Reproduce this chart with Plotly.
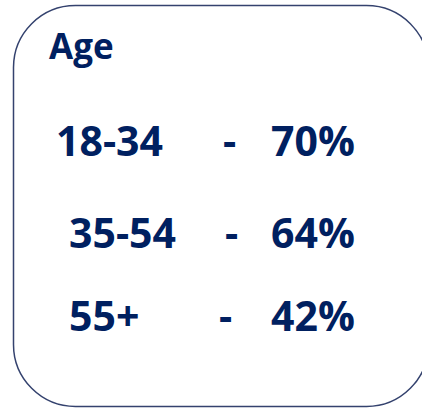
import plotly.graph_objects as go

# Data
title = "Age"
categories = ["18-34", "35-54", "55+"]
values = [70, 64, 42]

# Layout (pixel space)
W, H = 422, 408
label_x = [55, 68, 68]
dash_x = [222, 224, 218]
value_x = [270, 270, 270]
row_y = [140, 232, 315]

TEXT_COLOR = "#002060"
FONT = "Open Sans"

fig = go.Figure()
fig.add_trace(go.Scatter(x=[0, W], y=[0, H], mode="markers",
                         marker=dict(opacity=0), hoverinfo="skip", showlegend=False))

# rounded box
L, T, R, B = 13.5, 5.5, 428.5, 406.5
r = 62
k = 0.5523 * r
path = (f"M {L + r},{T} L {R - r},{T} "
        f"C {R - r + k},{T} {R},{T + r - k} {R},{T + r} "
        f"L {R},{B - r} "
        f"C {R},{B - r + k} {R - r + k},{B} {R - r},{B} "
        f"L {L + r},{B} "
        f"C {L + r - k},{B} {L},{B - r + k} {L},{B - r} "
        f"L {L},{T + r} "
        f"C {L},{T + r - k} {L + r - k},{T} {L + r},{T} Z")
fig.add_shape(type="path", path=path, xref="x", yref="y",
              line=dict(color="#34426E", width=1.5), fillcolor="white", layer="below")

annotations = [dict(x=47, y=45, text=f"<b>{title}</b>", xanchor="left", yanchor="middle",
                    font=dict(family=FONT, size=35, color=TEXT_COLOR))]
for i, (c, v) in enumerate(zip(categories, values)):
    for x, t in ((label_x[i], c), (dash_x[i], "-"), (value_x[i], f"{v}%")):
        annotations.append(dict(x=x, y=row_y[i], text=f"<b>{t}</b>", xanchor="left",
                                yanchor="middle", borderpad=0,
                                font=dict(family=FONT, size=41, color=TEXT_COLOR)))
for a in annotations:
    a.update(xref="x", yref="y", showarrow=False)

fig.update_layout(
    width=W, height=H, margin=dict(l=0, r=0, t=0, b=0),
    paper_bgcolor="white", plot_bgcolor="white",
    xaxis=dict(range=[0, W], visible=False, fixedrange=True),
    yaxis=dict(range=[H, 0], visible=False, fixedrange=True),
    annotations=annotations,
)
fig.write_html("out.html", config={"displayModeBar": False},
               post_script="document.body.style.margin='0';document.body.style.overflow='hidden';")
